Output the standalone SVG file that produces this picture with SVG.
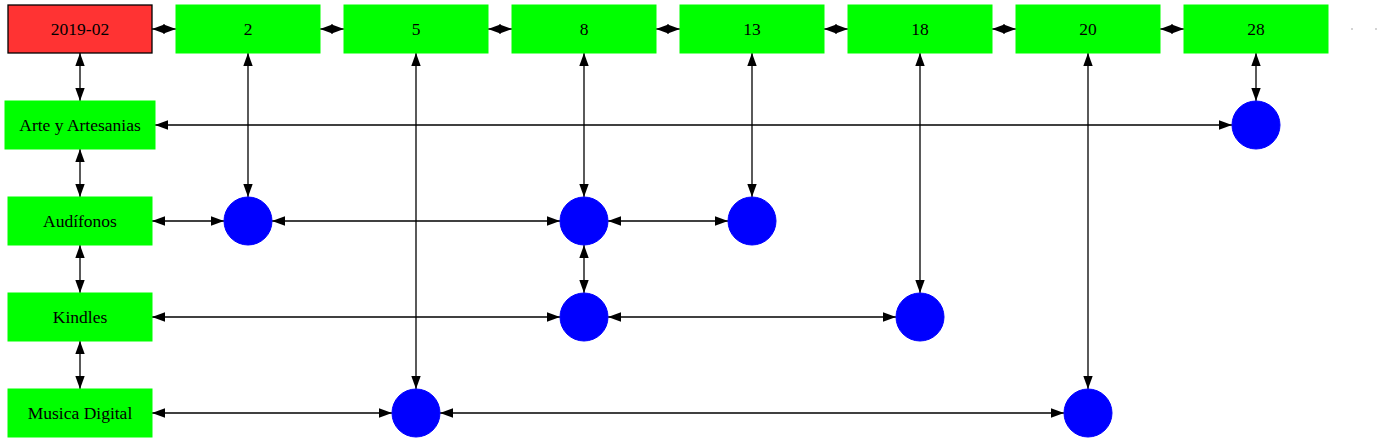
<svg xmlns="http://www.w3.org/2000/svg" width="1381" height="443" viewBox="0 0 1381 443">
<style>
.g{fill:#00ff00;stroke:#00ff00;stroke-width:1}
.r{fill:#ff3333;stroke:#000;stroke-width:1.3}
.c{fill:#0000ff;stroke:#0000ff;stroke-width:1}
.t{font-family:"Liberation Serif","Times New Roman",serif;font-size:17.5px;text-anchor:middle;fill:#000}
.e{stroke:#000;stroke-width:1.3;fill:none;marker-start:url(#a);marker-end:url(#a)}
</style>
<defs>
<marker id="a" markerUnits="userSpaceOnUse" markerWidth="13" markerHeight="9.4" refX="13" refY="4.7" orient="auto-start-reverse">
<path d="M0,0 L13,4.7 L0,9.4 z" fill="#000"/>
</marker>
</defs>
<rect width="1381" height="443" fill="#fff"/>
<g id="connectors">
<line class="e" x1="152" y1="29" x2="176" y2="29"/>
<line class="e" x1="320" y1="29" x2="344" y2="29"/>
<line class="e" x1="488" y1="29" x2="512" y2="29"/>
<line class="e" x1="656" y1="29" x2="680" y2="29"/>
<line class="e" x1="824" y1="29" x2="848" y2="29"/>
<line class="e" x1="992" y1="29" x2="1016" y2="29"/>
<line class="e" x1="1160" y1="29" x2="1184" y2="29"/>
<line class="e" x1="80" y1="53" x2="80" y2="101"/>
<line class="e" x1="80" y1="149" x2="80" y2="197"/>
<line class="e" x1="80" y1="245" x2="80" y2="293"/>
<line class="e" x1="80" y1="341" x2="80" y2="389"/>
<line class="e" x1="248" y1="53" x2="248" y2="197"/>
<line class="e" x1="416" y1="53" x2="416" y2="389"/>
<line class="e" x1="584" y1="53" x2="584" y2="197"/>
<line class="e" x1="584" y1="245" x2="584" y2="293"/>
<line class="e" x1="752" y1="53" x2="752" y2="197"/>
<line class="e" x1="920" y1="53" x2="920" y2="293"/>
<line class="e" x1="1088" y1="53" x2="1088" y2="389"/>
<line class="e" x1="1256" y1="53" x2="1256" y2="101"/>
<line class="e" x1="155" y1="125" x2="1232" y2="125"/>
<line class="e" x1="152" y1="221" x2="224" y2="221"/>
<line class="e" x1="272" y1="221" x2="560" y2="221"/>
<line class="e" x1="608" y1="221" x2="728" y2="221"/>
<line class="e" x1="152" y1="317" x2="560" y2="317"/>
<line class="e" x1="608" y1="317" x2="896" y2="317"/>
<line class="e" x1="152" y1="413" x2="392" y2="413"/>
<line class="e" x1="440" y1="413" x2="1064" y2="413"/>
</g>
<g id="n2019-02"><rect class="r" x="8" y="5" width="144" height="48"/><text class="t" x="80" y="35">2019-02</text></g>
<g id="n2"><rect class="g" x="176" y="5" width="144" height="48"/><text class="t" x="248" y="35">2</text></g>
<g id="n5"><rect class="g" x="344" y="5" width="144" height="48"/><text class="t" x="416" y="35">5</text></g>
<g id="n8"><rect class="g" x="512" y="5" width="144" height="48"/><text class="t" x="584" y="35">8</text></g>
<g id="n13"><rect class="g" x="680" y="5" width="144" height="48"/><text class="t" x="752" y="35">13</text></g>
<g id="n18"><rect class="g" x="848" y="5" width="144" height="48"/><text class="t" x="920" y="35">18</text></g>
<g id="n20"><rect class="g" x="1016" y="5" width="144" height="48"/><text class="t" x="1088" y="35">20</text></g>
<g id="n28"><rect class="g" x="1184" y="5" width="144" height="48"/><text class="t" x="1256" y="35">28</text></g>
<g id="dots"><circle cx="1352" cy="29" r="0.7" fill="#888"/><circle cx="1376" cy="29" r="0.7" fill="#888"/></g>
<g id="arte"><rect class="g" x="5" y="101" width="150" height="48"/><text class="t" x="80" y="131">Arte y Artesanias</text></g>
<g id="audifonos"><rect class="g" x="8" y="197" width="144" height="48"/><text class="t" x="80" y="227">Audífonos</text></g>
<g id="kindles"><rect class="g" x="8" y="293" width="144" height="48"/><text class="t" x="80" y="323">Kindles</text></g>
<g id="musica"><rect class="g" x="8" y="389" width="144" height="48"/><text class="t" x="80" y="419">Musica Digital</text></g>
<g id="c1"><circle class="c" cx="1256" cy="125" r="24"/></g>
<g id="c2"><circle class="c" cx="248" cy="221" r="24"/></g>
<g id="c3"><circle class="c" cx="584" cy="221" r="24"/></g>
<g id="c4"><circle class="c" cx="752" cy="221" r="24"/></g>
<g id="c5"><circle class="c" cx="584" cy="317" r="24"/></g>
<g id="c6"><circle class="c" cx="920" cy="317" r="24"/></g>
<g id="c7"><circle class="c" cx="416" cy="413" r="24"/></g>
<g id="c8"><circle class="c" cx="1088" cy="413" r="24"/></g>
</svg>
